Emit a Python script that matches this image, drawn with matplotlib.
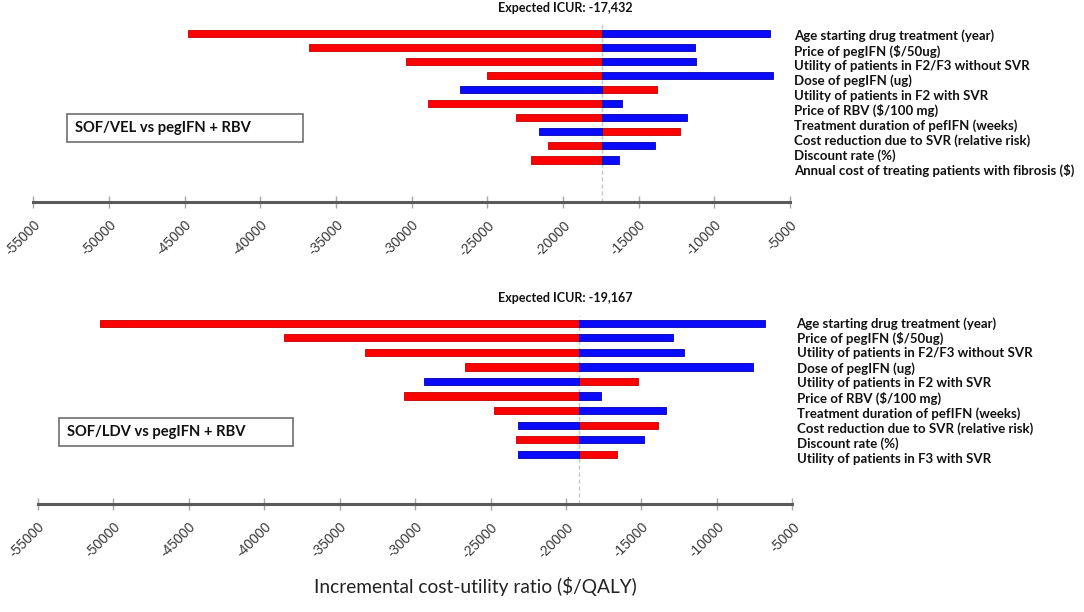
#!/usr/bin/env python

import matplotlib
matplotlib.use("Agg")
import matplotlib.pyplot as plt
from matplotlib.patches import Rectangle


#
# Values.
# red = ICUR at one bound of the parameter, blue = ICUR at the other bound.
#
vel_title = "SOF/VEL vs pegIFN + RBV"
vel_base = -17432
vel_params = [
    "Age starting drug treatment (year)",
    "Price of pegIFN ($/50ug)",
    "Utility of patients in F2/F3 without SVR",
    "Dose of pegIFN (ug)",
    "Utility of patients in F2 with SVR",
    "Price of RBV ($/100 mg)",
    "Treatment duration of pefIFN (weeks)",
    "Cost reduction due to SVR (relative risk)",
    "Discount rate (%)",
    "Annual cost of treating patients with fibrosis ($)",
]
vel_red = [-44800, -36800, -30400, -25000, -13800, -28900, -23100, -12300, -21000, -22100]
vel_blue = [-6300, -11300, -11200, -6100, -26800, -16100, -11800, -21600, -13900, -16300]

ldv_title = "SOF/LDV vs pegIFN + RBV"
ldv_base = -19167
ldv_params = [
    "Age starting drug treatment (year)",
    "Price of pegIFN ($/50ug)",
    "Utility of patients in F2/F3 without SVR",
    "Dose of pegIFN (ug)",
    "Utility of patients in F2 with SVR",
    "Price of RBV ($/100 mg)",
    "Treatment duration of pefIFN (weeks)",
    "Cost reduction due to SVR (relative risk)",
    "Discount rate (%)",
    "Utility of patients in F3 with SVR",
]
ldv_red = [-50900, -38700, -33300, -26700, -15200, -30700, -24800, -13900, -23300, -16600]
ldv_blue = [-6800, -12900, -12200, -7600, -29400, -17700, -13400, -23200, -14800, -23200]

x_ticks = list(range(-55000, -4999, 5000))
x_label = "Incremental cost-utility ratio ($/QALY)"

RED = "#ff0000"
BLUE = "#0a0aff"
LABEL_FONT = ["Lato", "DejaVu Sans"]
TICK_FONT = ["Liberation Sans Narrow", "Liberation Sans", "DejaVu Sans"]

W, H = 1084, 612


def px(x, y):
    # pixel position (from top-left) to figure fraction
    return x / W, 1 - y / H


def axes_rect(left, top, right, bottom):
    x0, y1 = px(left, top)
    x1, y0 = px(right, bottom)
    return [x0, y0, x1 - x0, y1 - y0]


#
# Draws one tornado panel.
#
def draw_panel(fig, rect, params, red, blue, base, bar_ylim, label_ylim, line_top):
    ax = fig.add_axes(rect)
    rows = list(range(len(params)))
    red_w = [r - base for r in red]
    blue_w = [b - base for b in blue]
    ax.barh(rows, red_w, left=base, height=0.5, color=RED,
            edgecolor="#c00000", linewidth=0.6, zorder=2)
    ax.barh(rows, blue_w, left=base, height=0.5, color=BLUE,
            edgecolor="#0000b0", linewidth=0.6, zorder=2)
    ax.axvline(base, ymin=0, ymax=line_top, color="#c8c8c8",
               linestyle=(0, (3, 2)), linewidth=1, zorder=1)

    ax.set_xlim(x_ticks[0], x_ticks[-1])
    ax.set_ylim(*bar_ylim)
    ax.set_yticks([])
    for side in ["top", "left", "right"]:
        ax.spines[side].set_visible(False)
    ax.spines["bottom"].set_color("#5a5a5a")
    ax.spines["bottom"].set_linewidth(2.2)
    ax.set_xticks(x_ticks)
    ax.set_xticklabels([str(t) for t in x_ticks], rotation=45, ha="right",
                       rotation_mode="anchor", family=TICK_FONT,
                       fontsize=10, color="#383838")
    ax.tick_params(axis="x", direction="inout", length=9, width=1,
                   color="#a8a8a8", pad=7)
    ax.patch.set_alpha(0)

    # parameter names on the right, spaced a bit wider than the bars
    lab = ax.twinx()
    lab.set_ylim(*label_ylim)
    lab.set_yticks(rows)
    lab.set_yticklabels(params, family=LABEL_FONT, fontweight="bold",
                        fontsize=9.5, color="#111111")
    lab.tick_params(axis="y", length=0, pad=3)
    for side in ["top", "left", "right", "bottom"]:
        lab.spines[side].set_visible(False)
    return ax


def draw_box(fig, text, left, top, right, bottom, text_x):
    x0, y1 = px(left, top)
    x1, y0 = px(right, bottom)
    fig.patches.append(Rectangle((x0, y0), x1 - x0, y1 - y0,
                                 transform=fig.transFigure, fill=False,
                                 edgecolor="#707070", linewidth=1.2))
    tx, ty = px(text_x, (top + bottom) / 2)
    fig.text(tx, ty, text, ha="left", va="center", family=LABEL_FONT,
             fontweight="bold", fontsize=10.6, color="#111111")


def main():
    fig = plt.figure(figsize=(W / 100, H / 100), dpi=100)

    # top panel: SOF/VEL
    draw_panel(fig, axes_rect(33.3, 19, 790, 202), vel_params, vel_red,
               vel_blue, vel_base, (11.98, -1.01), (11.19, -1.07), 0.98)
    fig.text(*px(565, 8.5), "Expected ICUR: {:,}".format(vel_base),
             ha="center", va="center", family=LABEL_FONT,
             fontweight="bold", fontsize=9, color="#111111")
    draw_box(fig, vel_title, 66.7, 114.3, 302.7, 142.3, 75)

    # bottom panel: SOF/LDV
    draw_panel(fig, axes_rect(37.7, 308, 792.4, 504), ldv_params, ldv_red,
               ldv_blue, ldv_base, (12.41, -1.05), (12.08, -0.95), 0.96)
    fig.text(*px(565, 297.5), "Expected ICUR: {:,}".format(ldv_base),
             ha="center", va="center", family=LABEL_FONT,
             fontweight="bold", fontsize=9, color="#111111")
    draw_box(fig, ldv_title, 59.3, 417.7, 293.4, 446, 67)

    fig.text(*px(475, 587), x_label, ha="center", va="center",
             family=LABEL_FONT, fontsize=13.8, color="#222222")

    fig.savefig("out.png", dpi=100, facecolor="white")
    plt.close(fig)


if __name__ == '__main__':
    main()
